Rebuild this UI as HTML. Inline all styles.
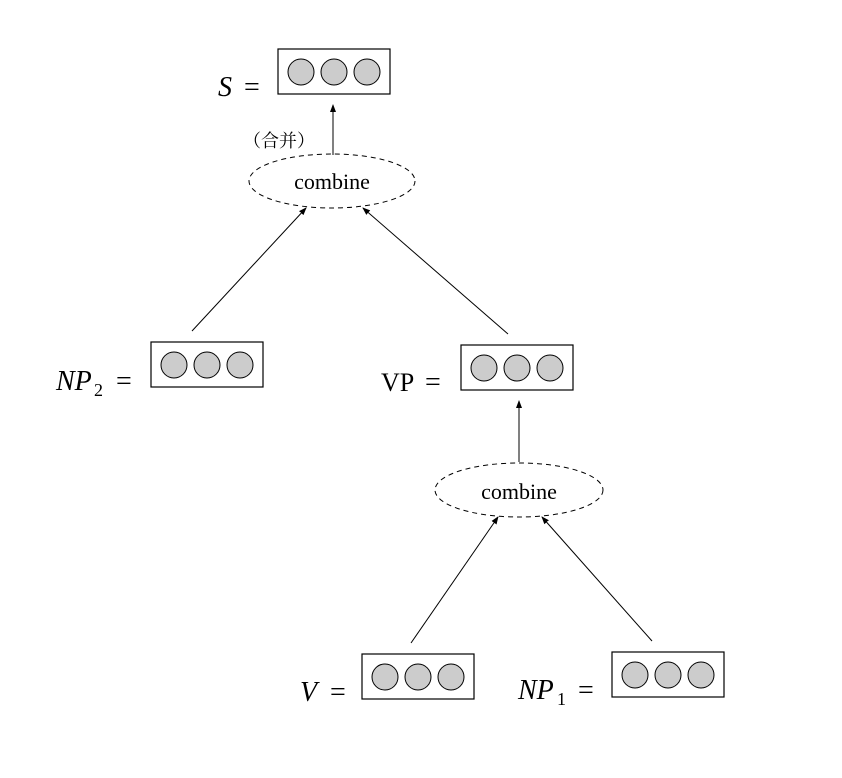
<!DOCTYPE html>
<html><head><meta charset="utf-8"><style>
html,body{margin:0;padding:0;background:#fff;}
svg{display:block}
text{font-family:"Liberation Serif","Noto Serif CJK SC",serif;fill:#000}
.m{font-style:italic}
</style></head><body>
<svg width="842" height="778" viewBox="0 0 842 778" xmlns="http://www.w3.org/2000/svg">
<defs>
<marker id="a" markerWidth="8" markerHeight="8" refX="7" refY="4" orient="auto" markerUnits="userSpaceOnUse">
<path d="M0,1 L8,4 L0,7 z" fill="#000"/>
</marker>
<g id="box">
<rect x="0" y="0" width="112" height="45" fill="#fff" stroke="#000" stroke-width="1.2"/>
<circle cx="23" cy="23" r="13" fill="#ccc" stroke="#000" stroke-width="1"/>
<circle cx="56" cy="23" r="13" fill="#ccc" stroke="#000" stroke-width="1"/>
<circle cx="89" cy="23" r="13" fill="#ccc" stroke="#000" stroke-width="1"/>
</g>
</defs>
<use href="#box" x="278" y="49"/>
<use href="#box" x="151" y="342"/>
<use href="#box" x="461" y="345"/>
<use href="#box" x="362" y="654"/>
<use href="#box" x="612" y="652"/>

<text x="218" y="96" font-size="28" class="m">S</text><text x="244" y="96" font-size="28">=</text>
<text x="56" y="390" font-size="28" class="m">NP</text><text x="94" y="396" font-size="18">2</text><text x="116" y="390" font-size="28">=</text>
<text x="381" y="391" font-size="26">VP</text><text x="425" y="391" font-size="28">=</text>
<text x="300" y="701" font-size="28" class="m">V</text><text x="330" y="701" font-size="28">=</text>
<text x="518" y="699" font-size="28" class="m">NP</text><text x="557" y="705" font-size="18">1</text><text x="578" y="699" font-size="28">=</text>

<text x="243" y="147" font-size="18">（合并）</text>

<ellipse cx="332" cy="181" rx="83" ry="27" fill="none" stroke="#000" stroke-width="1" stroke-dasharray="5,4"/>
<text x="332" y="189" font-size="22" text-anchor="middle">combine</text>
<ellipse cx="519" cy="490" rx="84" ry="27" fill="none" stroke="#000" stroke-width="1" stroke-dasharray="5,4"/>
<text x="519" y="499" font-size="22" text-anchor="middle">combine</text>

<g stroke="#000" stroke-width="1" marker-end="url(#a)">
<line x1="333" y1="155" x2="333" y2="105"/>
<line x1="192" y1="331" x2="306" y2="208"/>
<line x1="508" y1="334" x2="363" y2="208"/>
<line x1="519" y1="462" x2="519" y2="401"/>
<line x1="411" y1="643" x2="498" y2="517"/>
<line x1="652" y1="641" x2="542" y2="517"/>
</g>
</svg>
</body></html>
